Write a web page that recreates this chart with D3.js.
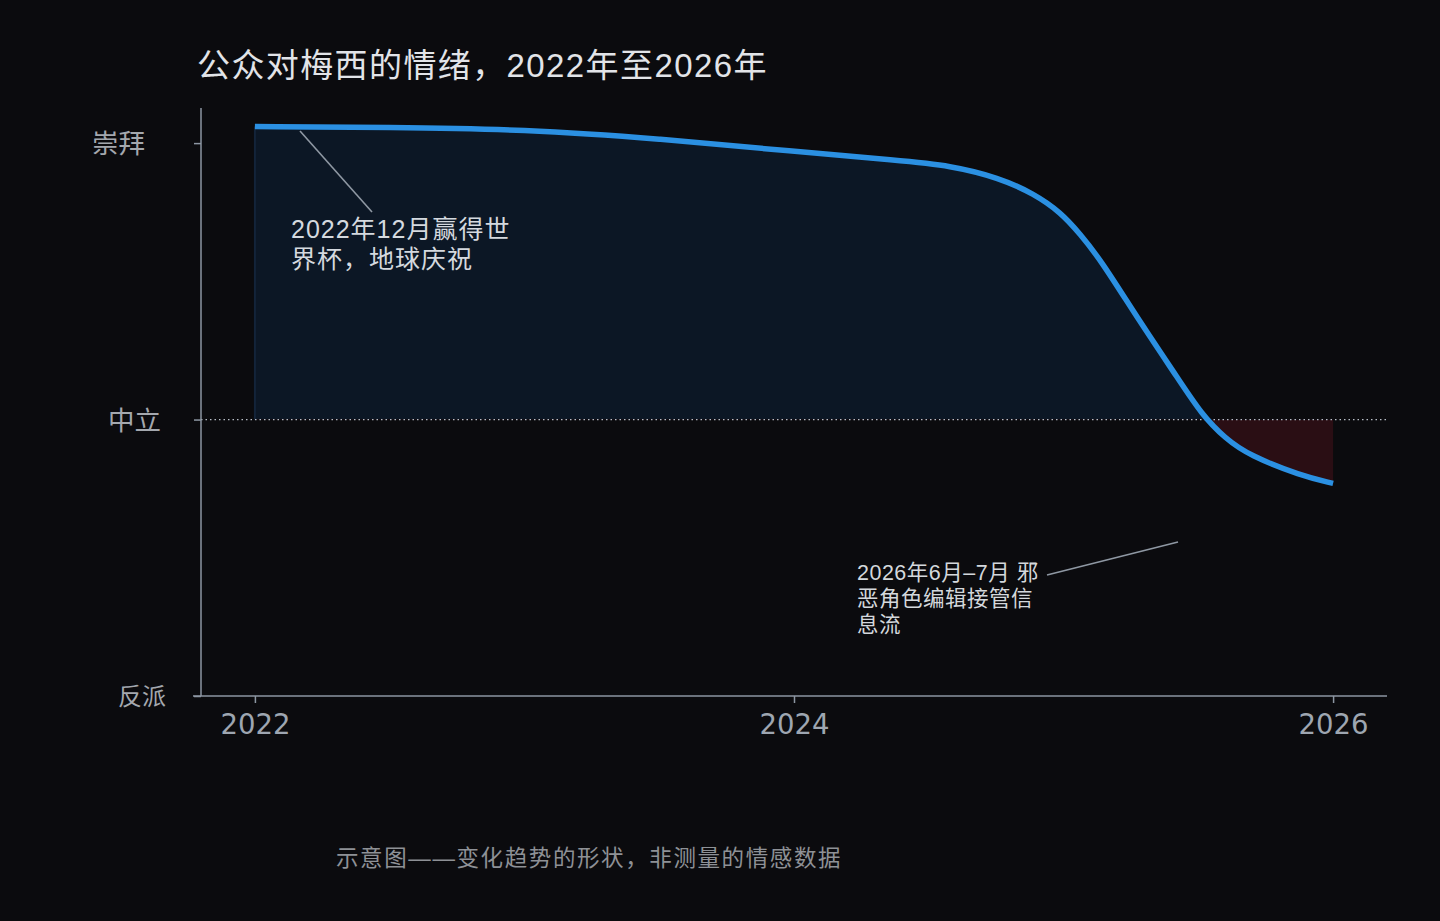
<!DOCTYPE html>
<html>
<head>
<meta charset="utf-8" />
<title>公众对梅西的情绪</title>
<script src="https://cdn.jsdelivr.net/npm/d3@7"></script>
<style>
  html, body { margin: 0; padding: 0; background: #0b0b0e; }
  svg { display: block; }
</style>
</head>
<body>
<script>
// sentiment shape (1 = 崇拜, 0 = 中立, -1 = 反派)
const years = [2022.0, 2022.5, 2023.0, 2023.5, 2024.0, 2024.39, 2024.58, 2024.76, 2024.89, 2024.99, 2025.06, 2025.14, 2025.28, 2025.43, 2025.51, 2025.6, 2025.69, 2025.88, 2026.0];
const sentiment = [1.06, 1.057, 1.05, 1.016, 0.97, 0.937, 0.919, 0.875, 0.817, 0.749, 0.673, 0.575, 0.358, 0.141, 0.022, -0.069, -0.13, -0.203, -0.231];

const yTickValues = [1, 0, -1];
const yTickLabels = ["崇拜", "中立", "反派"];
const xTickValues = [2022, 2024, 2026];

const titleText = "公众对梅西的情绪，2022年至2026年";
const noteText = "示意图——变化趋势的形状，非测量的情感数据";
const ann1 = ["2022年12月赢得世", "界杯，地球庆祝"];
const ann2 = ["2026年6月–7月 邪", "恶角色编辑接管信", "息流"];

const W = 1440, H = 921;
const margin = { top: 108, left: 201, right: 53, bottom: 225 };
const cjk = "'Liberation Sans', 'Noto Sans CJK SC', sans-serif";

const svg = d3.select("body").append("svg")
    .attr("width", W)
    .attr("height", H);

svg.append("rect").attr("width", W).attr("height", H).attr("fill", "#0b0b0e");

const x = d3.scaleLinear().domain([2021.8, 2026.2]).range([margin.left, W - margin.right]);
const y = d3.scaleLinear().domain([-1, 1.127]).range([H - margin.bottom, margin.top]);

const data = years.map((t, i) => ({ t: t, v: sentiment[i] }));
const curve = d3.curveBasis;

// fills between curve and neutral, clipped above / below zero
const defs = svg.append("defs");
defs.append("clipPath").attr("id", "above")
    .append("rect")
    .attr("x", 0).attr("y", 0).attr("width", W).attr("height", y(0));
defs.append("clipPath").attr("id", "below")
    .append("rect")
    .attr("x", 0).attr("y", y(0)).attr("width", W).attr("height", H - y(0));

const area = d3.area()
    .x(d => x(d.t))
    .y0(y(0))
    .y1(d => y(d.v))
    .curve(curve);

svg.append("path")
    .datum(data)
    .attr("d", area)
    .attr("fill", "#0c1725")
    .attr("clip-path", "url(#above)");

svg.append("path")
    .datum(data)
    .attr("d", area)
    .attr("fill", "#2a0e14")
    .attr("clip-path", "url(#below)");

// faint edge on the left of the blue fill
svg.append("line")
    .attr("x1", x(2022)).attr("x2", x(2022))
    .attr("y1", y(sentiment[0])).attr("y2", y(0))
    .attr("stroke", "#13243a").attr("stroke-width", 2);

// neutral reference line
svg.append("line")
    .attr("x1", margin.left).attr("x2", W - margin.right)
    .attr("y1", y(0)).attr("y2", y(0))
    .attr("stroke", "#b8bec6")
    .attr("stroke-width", 1.2)
    .attr("stroke-dasharray", "1.5,3");

// axes
const axisColor = "#8c96a2";
const xAxis = d3.axisBottom(x)
    .tickValues(xTickValues)
    .tickFormat(d3.format("d"))
    .tickSize(7)
    .tickPadding(11);

const gx = svg.append("g")
    .attr("transform", `translate(0, ${y(-1)})`)
    .call(xAxis);
gx.select(".domain").attr("stroke", axisColor).attr("stroke-width", 1.5)
    .attr("d", `M${margin.left - 8},0H${W - margin.right}`);
gx.selectAll(".tick line").attr("stroke", axisColor).attr("stroke-width", 1.5);
gx.selectAll(".tick text")
    .attr("fill", "#9ea6b1")
    .style("font-family", "'DejaVu Sans', sans-serif")
    .style("font-size", "27.5px");

const yAxis = d3.axisLeft(y)
    .tickValues(yTickValues)
    .tickFormat((d, i) => yTickLabels[i])
    .tickSize(7)
    .tickPadding(0);

const gy = svg.append("g")
    .attr("transform", `translate(${margin.left}, 0)`)
    .call(yAxis);
gy.select(".domain").attr("stroke", axisColor).attr("stroke-width", 1.5)
    .attr("d", `M0,${margin.top}V${y(-1)}`);
gy.selectAll(".tick line").attr("stroke", axisColor).attr("stroke-width", 1.5);
const yLabelShift = [-56, -40, -35];
const yLabelSize = ["26.5px", "26.5px", "24px"];
gy.selectAll(".tick text")
    .attr("x", (d, i) => yLabelShift[i])
    .attr("dy", "0.36em")
    .attr("fill", "#a4a8ae")
    .style("font-family", cjk)
    .style("font-size", (d, i) => yLabelSize[i]);

// main curve
const line = d3.line()
    .x(d => x(d.t))
    .y(d => y(d.v))
    .curve(curve);

svg.append("path")
    .datum(data)
    .attr("d", line)
    .attr("fill", "none")
    .attr("stroke", "#2b90e2")
    .attr("stroke-width", 5.5)
    .attr("stroke-linecap", "butt");

// annotations
svg.append("line")
    .attr("x1", 300).attr("y1", 131)
    .attr("x2", 372).attr("y2", 212)
    .attr("stroke", "#8f98a3").attr("stroke-width", 1.6);

const a1 = svg.append("text")
    .attr("fill", "#d4d9df")
    .style("font-family", cjk)
    .style("font-size", "25px")
    .style("letter-spacing", "1px");
ann1.forEach((s, i) => {
    a1.append("tspan").attr("x", 291).attr("y", 238 + i * 30).text(s);
});

svg.append("line")
    .attr("x1", 1047).attr("y1", 575)
    .attr("x2", 1178).attr("y2", 542)
    .attr("stroke", "#8f98a3").attr("stroke-width", 1.6);

const a2 = svg.append("text")
    .attr("fill", "#d4d8dc")
    .style("font-family", cjk)
    .style("font-size", "21.5px")
    .style("letter-spacing", "0.5px");
ann2.forEach((s, i) => {
    a2.append("tspan").attr("x", 857).attr("y", 580 + i * 26).text(s);
});

// title and footnote
svg.append("text")
    .attr("x", 197).attr("y", 77)
    .attr("fill", "#e2e4e8")
    .style("font-family", cjk)
    .style("font-size", "33px")
    .style("letter-spacing", "1.4px")
    .text(titleText);

svg.append("text")
    .attr("x", 336).attr("y", 866)
    .attr("fill", "#8e9196")
    .style("font-family", cjk)
    .style("font-size", "22.5px")
    .style("letter-spacing", "1.6px")
    .text(noteText);
</script>
</body>
</html>
